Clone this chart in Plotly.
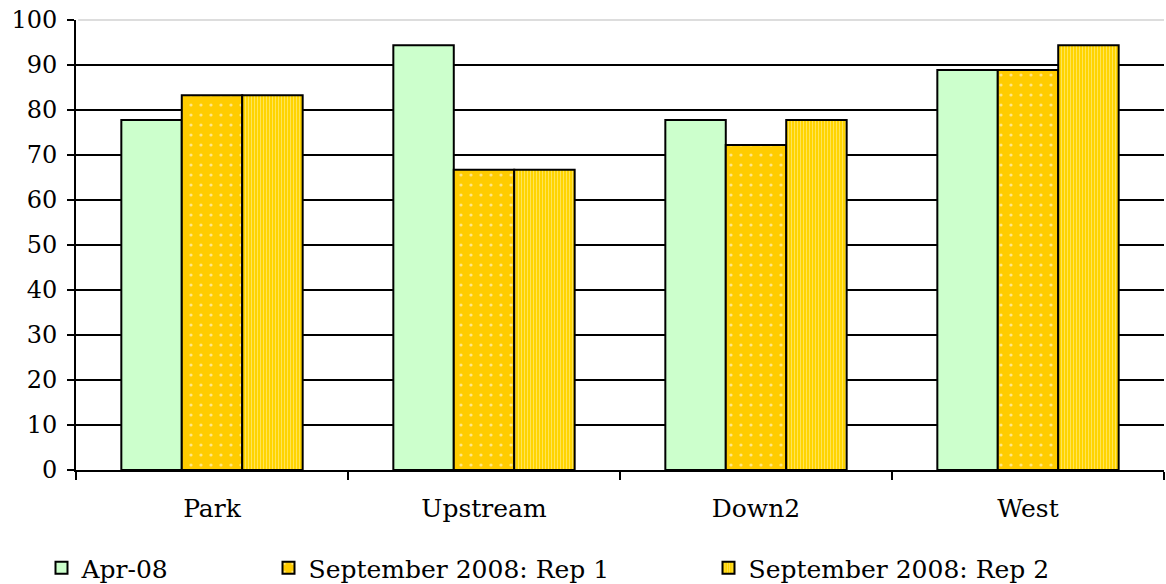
import plotly.graph_objects as go

categories = ["Park", "Upstream", "Down2", "West"]
series_names = ["Apr-08", "September 2008: Rep 1", "September 2008: Rep 2"]
apr08 = [77.8, 94.4, 77.8, 88.9]
sep_rep1 = [83.3, 66.7, 72.2, 88.9]
sep_rep2 = [83.3, 66.7, 77.8, 94.4]
y_ticks = [0, 10, 20, 30, 40, 50, 60, 70, 80, 90, 100]

FONT = "DejaVu Serif"
W, H = 1166, 584
L, R, T, B = 76, 2, 20, 114
PW = W - L - R
PH = H - T - B


def px_to_paper_x(px):
    return (px - L) / PW


fig = go.Figure()
fig.add_trace(go.Bar(
    x=categories, y=apr08, name=series_names[0], legend="legend",
    marker=dict(color="#CCFFCC", line=dict(color="black", width=2)),
))
fig.add_trace(go.Bar(
    x=categories, y=sep_rep1, name=series_names[1], legend="legend2",
    marker=dict(color="#FFCC00", line=dict(color="black", width=2),
                pattern=dict(shape=".", fgcolor="#FFFFFF", bgcolor="#FFCC00",
                             size=10, solidity=0.08, fillmode="overlay")),
))
fig.add_trace(go.Bar(
    x=categories, y=sep_rep2, name=series_names[2], legend="legend3",
    marker=dict(color="#FFCC00", line=dict(color="black", width=2),
                pattern=dict(shape="|", fgcolor="#FFF3B0", bgcolor="#FFD400",
                             size=3, solidity=0.35, fillmode="overlay")),
))

leg_y = (T + PH - 568) / PH
leg_common = dict(orientation="h", yanchor="middle", y=leg_y, xanchor="left",
                  font=dict(family=FONT, size=25, color="black"), bgcolor="rgba(0,0,0,0)")

fig.update_layout(
    width=W, height=H, autosize=False,
    margin=dict(l=L, r=R, t=T, b=B, autoexpand=False),
    paper_bgcolor="white", plot_bgcolor="white",
    barmode="group", bargap=1/3, bargroupgap=0,
    font=dict(family=FONT, size=24, color="black"),
    showlegend=True,
    legend=dict(x=px_to_paper_x(41.5), **leg_common),
    legend2=dict(x=px_to_paper_x(268.5), **leg_common),
    legend3=dict(x=px_to_paper_x(708.5), **leg_common),
    xaxis=dict(showline=True, linecolor="black", linewidth=2,
               ticks="outside", tickson="boundaries", ticklen=8, tickwidth=2, tickcolor="black",
               ticklabelstandoff=15,
               tickfont=dict(family=FONT, size=25), showgrid=False),
    yaxis=dict(range=[0, 100], tickvals=y_ticks, showline=True, linecolor="black", linewidth=2,
               ticks="outside", ticklen=7, tickwidth=2, tickcolor="black",
               ticklabelstandoff=5,
               showgrid=True, gridcolor="black", gridwidth=2, zeroline=False,
               tickfont=dict(family=FONT, size=24)),
    shapes=[
        dict(type="line", xref="paper", yref="paper", x0=0.002, x1=1, y0=1, y1=1,
             line=dict(color="white", width=3), layer="above"),
        dict(type="line", xref="paper", yref="paper", x0=0.002, x1=1, y0=1, y1=1,
             line=dict(color="#BBBBBB", width=1), layer="above"),
    ],
)

post = ("document.body.style.margin='0';document.body.style.padding='0';"
        "document.body.style.overflow='hidden';"
        "document.documentElement.style.overflow='hidden';"
        "Plotly.relayout('{plot_id}', {width: 1166, height: 584});")

fig.write_html("out.html", config={"responsive": False, "displayModeBar": False},
               post_script=post)
